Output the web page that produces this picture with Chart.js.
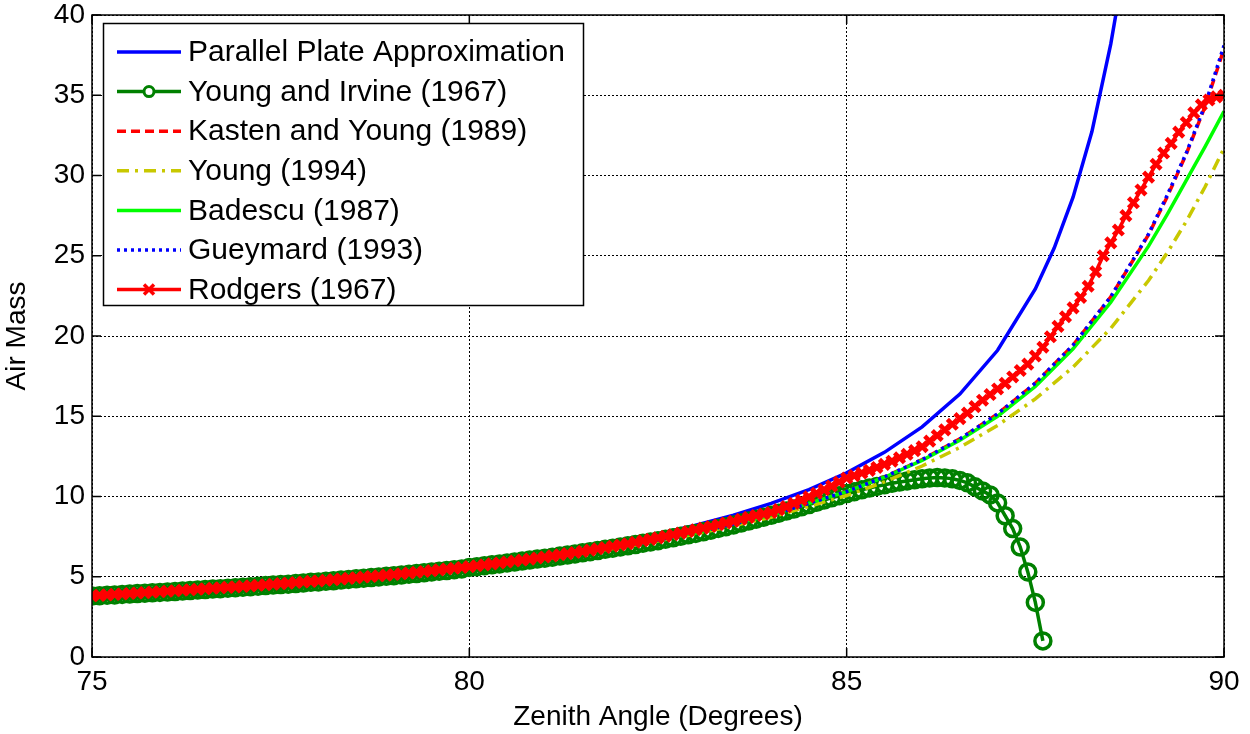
<!DOCTYPE html>
<html><head><meta charset="utf-8">
<script src="https://cdn.jsdelivr.net/npm/chart.js@4"></script>
<style>body{margin:0;background:#fff}#w{width:1250px;height:734px}</style>
</head><body><div id="w"><canvas id="c" width="1250" height="734"></canvas></div>
<script>
const seriesNames=["Parallel Plate Approximation","Young and Irvine (1967)","Kasten and Young (1989)","Young (1994)","Badescu (1987)","Gueymard (1993)","Rodgers (1967)"];
const xTicks=[75,80,85,90];
const yTicks=[0,5,10,15,20,25,30,35,40];
// coarse-grid series
const ppX=[75,75.5,76,76.5,77,77.5,78,78.5,79,79.5,80,80.5,81,81.5,82,82.5,83,83.5,84,84.5,85,85.5,86,86.5,87,87.5,87.75,88,88.25,88.5,88.6];
const ppY=[3.864,3.994,4.134,4.284,4.445,4.620,4.810,5.016,5.241,5.487,5.759,6.059,6.392,6.765,7.185,7.661,8.206,8.834,9.567,10.43,11.47,12.75,14.34,16.38,19.11,22.93,25.48,28.65,32.74,38.20,40.93];
const cX=[75,76,77,78,79,80,81,82,83,84,85,85.5,86,86.5,87,87.5,88,88.5,89,89.25,89.5,89.75,90];
const kyY=[3.81,4.07,4.37,4.71,5.11,5.59,6.16,6.86,7.73,8.84,10.31,11.22,12.30,13.59,15.15,17.06,19.43,22.44,26.31,28.7,31.34,34.3,37.9];
const gyY=[3.81,4.07,4.37,4.71,5.11,5.59,6.16,6.86,7.73,8.84,10.31,11.22,12.30,13.59,15.15,17.06,19.43,22.45,26.35,28.8,31.4,34.4,38.1];
const y94Y=[3.80,4.06,4.36,4.70,5.09,5.57,6.13,6.82,7.66,8.71,10.06,10.91,11.90,13.06,14.43,16.08,18.06,20.48,23.46,25.2,27.14,29.3,31.7];
const bdY=[3.81,4.07,4.37,4.71,5.11,5.59,6.16,6.86,7.73,8.84,10.30,11.20,12.25,13.50,15.0,16.85,19.2,22.1,25.6,27.6,29.7,31.8,34.0];
// 0.1-degree series (marker series)
const yiStart=75, rdStart=75, fineStep=0.1;
const yiY=[3.80,3.82,3.85,3.87,3.90,3.92,3.95,3.97,4.00,4.02,
4.05,4.08,4.11,4.14,4.17,4.20,4.23,4.26,4.29,4.32,
4.35,4.38,4.41,4.45,4.48,4.51,4.54,4.58,4.61,4.65,
4.68,4.72,4.75,4.79,4.83,4.87,4.91,4.95,4.99,5.03,
5.07,5.11,5.16,5.20,5.25,5.30,5.35,5.39,5.44,5.49,
5.58,5.63,5.69,5.74,5.80,5.86,5.92,5.98,6.04,6.10,
6.16,6.22,6.29,6.35,6.42,6.49,6.56,6.63,6.71,6.78,
6.86,6.93,7.01,7.09,7.17,7.25,7.34,7.43,7.52,7.61,
7.70,7.80,7.90,8.01,8.12,8.23,8.35,8.47,8.59,8.71,
8.83,8.96,9.09,9.22,9.36,9.50,9.64,9.78,9.92,10.05,
10.18,10.30,10.42,10.53,10.63,10.73,10.82,10.90,10.97,11.04,
11.10,11.15,11.18,11.16,11.10,11.00,10.85,10.60,10.35,10.10,
9.6,8.8,8.0,6.85,5.3,3.4,1.0];
const rdY=[3.82,3.84,3.87,3.90,3.93,3.96,3.99,4.01,4.04,4.07,
4.10,4.13,4.16,4.19,4.22,4.25,4.28,4.31,4.34,4.37,
4.40,4.43,4.47,4.50,4.53,4.57,4.60,4.64,4.67,4.71,
4.74,4.78,4.82,4.86,4.90,4.94,4.98,5.02,5.06,5.10,
5.14,5.19,5.23,5.28,5.33,5.38,5.43,5.48,5.53,5.58,
5.63,5.69,5.74,5.80,5.86,5.92,5.98,6.04,6.10,6.17,
6.23,6.30,6.37,6.44,6.51,6.58,6.66,6.74,6.82,6.90,
6.98,7.06,7.15,7.24,7.33,7.42,7.52,7.62,7.72,7.82,
7.93,8.03,8.13,8.24,8.35,8.46,8.58,8.70,8.82,8.91,
9.00,9.18,9.37,9.57,9.77,9.98,10.20,10.42,10.65,10.90,
11.15,11.30,11.46,11.63,11.81,12.00,12.20,12.41,12.63,12.86,
13.10,13.45,13.80,14.15,14.50,14.85,15.20,15.60,16.00,16.35,
16.70,17.05,17.45,17.85,18.25,18.75,19.30,19.95,20.60,21.20,
21.75,22.40,23.10,24.00,25.00,25.80,26.60,27.50,28.30,29.10,
29.90,30.70,31.40,32.00,32.70,33.30,33.90,34.40,34.70,34.90,35.00];

const pts=(xs,ys)=>ys.map((y,i)=>({x:xs[i],y}));
const fine=(s,ys)=>ys.map((y,i)=>({x:+(s+i*fineStep).toFixed(1),y}));

const styles=[
 {borderColor:'#0000ff',borderWidth:3.5,pointRadius:0},
 {borderColor:'#008000',borderWidth:3.5,pointRadius:8,pointStyle:'circle',pointBorderWidth:3.5,pointBackgroundColor:'rgba(0,0,0,0)',pointBorderColor:'#008000'},
 {borderColor:'#ff0000',borderWidth:3.5,borderDash:[9,5],pointRadius:0},
 {borderColor:'#c8c800',borderWidth:3.5,borderDash:[12,6,3,6],pointRadius:0},
 {borderColor:'#00ff00',borderWidth:3.5,pointRadius:0},
 {borderColor:'#0000ff',borderWidth:3.5,borderDash:[3,4],pointRadius:0},
 {borderColor:'#ff0000',borderWidth:3.5,pointRadius:7,pointStyle:'crossRot',pointBorderWidth:4.5,pointBorderColor:'#ff0000'}
];
const data=[pts(ppX,ppY),fine(yiStart,yiY),pts(cX,kyY),pts(cX,y94Y),pts(cX,bdY),pts(cX,gyY),fine(rdStart,rdY)];
const datasets=seriesNames.map((n,i)=>Object.assign({label:n,data:data[i],showLine:true,fill:false,tension:0,order:6-i},styles[i]));

const font="'Liberation Sans', Arial, sans-serif";
const legendPlugin={id:'leg',afterDraw(ch){
  const c=ch.ctx;const x0=103,y0=23,w=480,h=282;
  c.save();c.fillStyle='#fff';c.fillRect(x0,y0,w,h);c.strokeStyle='#000';c.lineWidth=1.5;c.setLineDash([]);c.strokeRect(x0+.5,y0+.5,w,h);
  c.font='30px '+font;c.textBaseline='middle';
  seriesNames.forEach((n,i)=>{const y=y0+29+i*39.6;const s=styles[i];
    c.strokeStyle=s.borderColor;c.lineWidth=3.5;c.setLineDash(s.borderDash||[]);
    c.beginPath();c.moveTo(117,y);c.lineTo(181,y);c.stroke();c.setLineDash([]);
    if(i==1){c.lineWidth=3;c.beginPath();c.arc(149,y,5,0,Math.PI*2);c.fillStyle='#fff';c.fill();c.stroke();}
    if(i==6){c.lineWidth=3.5;c.beginPath();c.moveTo(144,y-5);c.lineTo(154,y+5);c.moveTo(154,y-5);c.lineTo(144,y+5);c.stroke();}
    c.fillStyle='#000';c.fillText(n,188,y+1);});
  c.restore();}};
const frame={id:'frame',afterDatasetsDraw(ch){const a=ch.chartArea,c=ch.ctx;c.save();c.strokeStyle='#000';c.lineWidth=1.5;c.strokeRect(a.left,a.top,a.right-a.left,a.bottom-a.top);
 c.beginPath();
 ch.scales.x.ticks.forEach(t=>{const px=ch.scales.x.getPixelForValue(t.value);c.moveTo(px,a.bottom);c.lineTo(px,a.bottom-9);c.moveTo(px,a.top);c.lineTo(px,a.top+9);});
 ch.scales.y.ticks.forEach(t=>{const py=ch.scales.y.getPixelForValue(t.value);c.moveTo(a.left,py);c.lineTo(a.left+9,py);c.moveTo(a.right,py);c.lineTo(a.right-9,py);});
 c.stroke();c.restore();}};

new Chart(document.getElementById('c'),{type:'scatter',data:{datasets},
 options:{responsive:false,animation:false,
  layout:{padding:{left:0,right:26,top:15,bottom:0}},
  plugins:{legend:{display:false},tooltip:{enabled:false}},
  scales:{
   x:{type:'linear',min:75,max:90,afterBuildTicks:s=>{s.ticks=xTicks.map(v=>({value:v}))},
     afterFit:s=>{s.height=77;s.paddingLeft=0;s.paddingRight=0},
     grid:{color:'#000',lineWidth:1,drawTicks:false},border:{display:false,dash:[2,2]},
     ticks:{color:'#000',font:{size:28,family:font},padding:8,maxRotation:0},
     title:{display:true,text:'Zenith Angle (Degrees)',color:'#000',font:{size:28,family:font},padding:{top:0,bottom:0}}},
   y:{type:'linear',min:0,max:40,afterBuildTicks:s=>{s.ticks=yTicks.map(v=>({value:v}))},
     afterFit:s=>{s.width=92;s.paddingTop=0;s.paddingBottom=0},
     grid:{color:'#000',lineWidth:1,drawTicks:false},border:{display:false,dash:[2,2]},
     ticks:{color:'#000',font:{size:28,family:font},padding:7},
     title:{display:true,text:'Air Mass',color:'#000',font:{size:28,family:font},padding:{top:0,bottom:2}}}
  }},plugins:[legendPlugin,frame]});
</script></body></html>
